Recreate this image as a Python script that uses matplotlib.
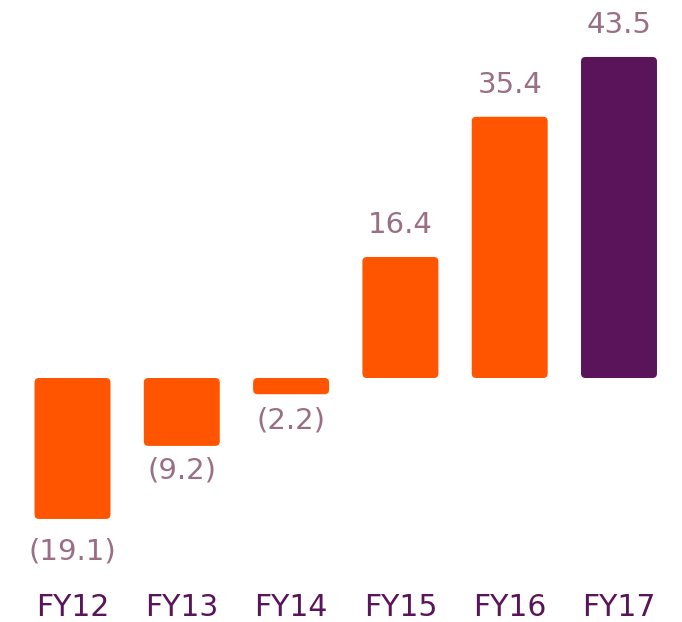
import matplotlib
matplotlib.use("Agg")
import matplotlib.pyplot as plt
from matplotlib.patches import FancyBboxPatch

categories = ["FY12", "FY13", "FY14", "FY15", "FY16", "FY17"]
values = [-19.1, -9.2, -2.2, 16.4, 35.4, 43.5]
labels = ["(19.1)", "(9.2)", "(2.2)", "16.4", "35.4", "43.5"]
colors = ["#FF5500"] * 5 + ["#5A145A"]

W, H, DPI = 682, 622, 100
fig = plt.figure(figsize=(W / DPI, H / DPI), dpi=DPI)
ax_bottom_px = 585
ax = fig.add_axes([0, (H - ax_bottom_px) / H, 1, ax_bottom_px / H])

px_per_x = 109.3
px_per_y = 7.38
zero_px = 378
x0_px = 72.5
ax.set_xlim(-x0_px / px_per_x, (W - x0_px) / px_per_x)
ax.set_ylim(-(ax_bottom_px - zero_px) / px_per_y, zero_px / px_per_y)

width = 0.695
aspect = px_per_x / px_per_y
r = 4.5 / px_per_x
for i, (v, c) in enumerate(zip(values, colors)):
    y0 = min(0, v)
    h = abs(v)
    rr = min(r, h / aspect / 2 * 0.9)
    p = FancyBboxPatch((i - width / 2, y0), width, h,
                       boxstyle=f"round,pad=0,rounding_size={rr}",
                       mutation_aspect=aspect, facecolor=c, edgecolor="none")
    ax.add_patch(p)

fam = ["DejaVu Sans"]
neg_gap_px = [19, 11, 12]
for i, (v, lab) in enumerate(zip(values, labels)):
    if v >= 0:
        ax.annotate(lab, (i, v), xytext=(0, 24), textcoords="offset pixels",
                    ha="center", va="baseline", fontsize=21, color="#9A6F86", family=fam)
    else:
        ax.annotate(lab, (i, v), xytext=(0, -neg_gap_px[i]), textcoords="offset pixels",
                    ha="center", va="top", fontsize=21, color="#9A6F86", family=fam)

ax.set_xticks(range(len(categories)))
ax.set_xticklabels(categories, fontsize=21.5, color="#5A145A", family=fam)
ax.tick_params(axis="x", length=0, pad=6)
ax.set_yticks([])
for s in ax.spines.values():
    s.set_visible(False)

fig.savefig("out.png", dpi=DPI)
